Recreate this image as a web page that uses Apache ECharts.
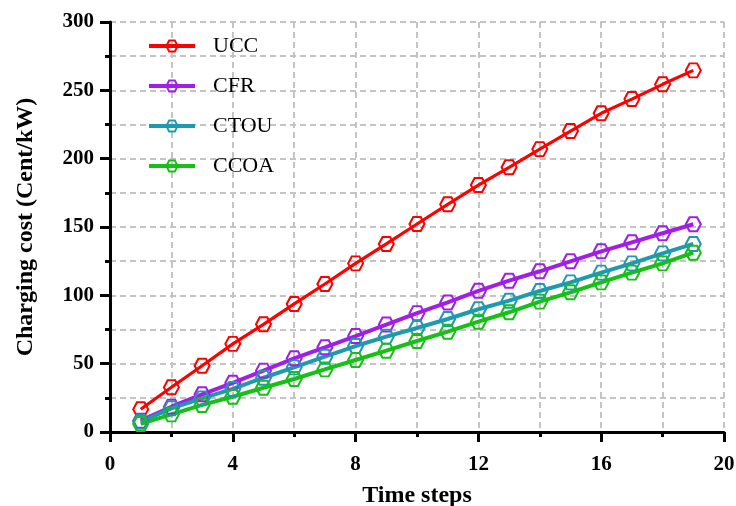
<!DOCTYPE html>
<html>
<head>
<meta charset="utf-8">
<script src="https://cdn.jsdelivr.net/npm/echarts@6/dist/echarts.min.js"></script>
<style>
  html, body { margin: 0; padding: 0; background: #fff; }
  #chart { width: 736px; height: 506px; }
</style>
</head>
<body>
<div id="chart"></div>
<script>
// time steps 1..19
const steps = [1, 2, 3, 4, 5, 6, 7, 8, 9, 10, 11, 12, 13, 14, 15, 16, 17, 18, 19];
const seriesNames = ['UCC', 'CFR', 'CTOU', 'CCOA'];
const ucc = [16.6, 32.7, 48.5, 64.5, 78.8, 93.7, 108.3, 123.4, 137.6, 152.2, 166.6, 180.7, 193.7, 207, 220.2, 233.2, 243.6, 254.4, 264.6];
const cfr = [8.3, 18.5, 27.6, 36, 44.9, 53.9, 62, 70.2, 78.6, 87, 94.8, 103.3, 110.7, 117.6, 124.9, 132.2, 138.8, 145.4, 152];
const ctou = [7.5, 17.3, 24.6, 31.5, 39.7, 47.3, 55.1, 62.9, 69.8, 76.1, 82.7, 89.8, 96.1, 103.2, 109.5, 116.6, 123.4, 130.7, 137.6];
const ccoa = [5.9, 12.9, 19.8, 25.8, 32.4, 38.8, 45.8, 52.7, 59.5, 66.6, 73.4, 80.7, 87.6, 95.4, 102.2, 109.5, 116.6, 123.4, 131.2];
const colors = ['#ff0000', '#a11ee6', '#1e9ab0', '#16c016'];
const widths = [3.2, 4, 4, 4];

const hexagon = 'path://M-1,0 L-0.5,-0.866 L0.5,-0.866 L1,0 L0.5,0.866 L-0.5,0.866 Z';
const font = '"Liberation Serif", "Times New Roman", serif';

function makeSeries(name, vals, color, w) {
  return {
    name: name,
    type: 'line',
    data: steps.map(function (s, i) { return [s, vals[i]]; }),
    symbol: hexagon,
    symbolSize: [15, 14],
    lineStyle: { color: color, width: w },
    itemStyle: { color: 'rgba(255,255,255,0)', borderColor: color, borderWidth: 2 },
    emphasis: { disabled: true }
  };
}

const dashed = { show: true, lineStyle: { color: '#c4c4c4', width: 2, type: [6, 4] } };

let myChart = echarts.init(document.getElementById('chart'));
let option = {
  animation: false,
  grid: { left: 110, right: 12, top: 22, bottom: 74, containLabel: false, outerBoundsMode: 'none' },
  legend: {
    orient: 'vertical',
    left: 142,
    top: 30,
    itemWidth: 46,
    itemHeight: 14,
    itemGap: 18,
    data: seriesNames,
    lineStyle: { width: 4 },
    itemStyle: { borderWidth: 2 },
    textStyle: { fontFamily: font, fontSize: 22, color: '#000', padding: [0, 0, 0, 13] }
  },
  xAxis: {
    type: 'value',
    min: 0, max: 20, interval: 4,
    name: 'Time steps',
    nameLocation: 'middle',
    nameGap: 52,
    nameTextStyle: { fontFamily: font, fontSize: 24, fontWeight: 'bold', color: '#000' },
    axisLine: { show: true, onZero: false, lineStyle: { color: '#000', width: 3 } },
    axisTick: { show: true, inside: false, length: 10, lineStyle: { color: '#000', width: 3 } },
    minorTick: { show: true, splitNumber: 2, length: 5, lineStyle: { color: '#000', width: 3 } },
    axisLabel: { fontFamily: font, fontSize: 21, fontWeight: 'bold', color: '#000', margin: 22 },
    splitLine: dashed,
    minorSplitLine: dashed
  },
  yAxis: {
    type: 'value',
    min: 0, max: 300, interval: 50,
    name: 'Charging cost (Cent/kW)',
    nameLocation: 'middle',
    nameGap: 72,
    nameTextStyle: { fontFamily: font, fontSize: 24, fontWeight: 'bold', color: '#000' },
    axisLine: { show: true, onZero: false, lineStyle: { color: '#000', width: 3 } },
    axisTick: { show: true, inside: false, length: 10, lineStyle: { color: '#000', width: 3 } },
    minorTick: { show: true, splitNumber: 2, length: 5, lineStyle: { color: '#000', width: 3 } },
    axisLabel: { fontFamily: font, fontSize: 21, fontWeight: 'bold', color: '#000', margin: 16 },
    splitLine: dashed,
    minorSplitLine: dashed
  },
  series: [
    makeSeries('UCC', ucc, colors[0], widths[0]),
    makeSeries('CFR', cfr, colors[1], widths[1]),
    makeSeries('CTOU', ctou, colors[2], widths[2]),
    makeSeries('CCOA', ccoa, colors[3], widths[3])
  ]
};
myChart.setOption(option);
</script>
</body>
</html>
